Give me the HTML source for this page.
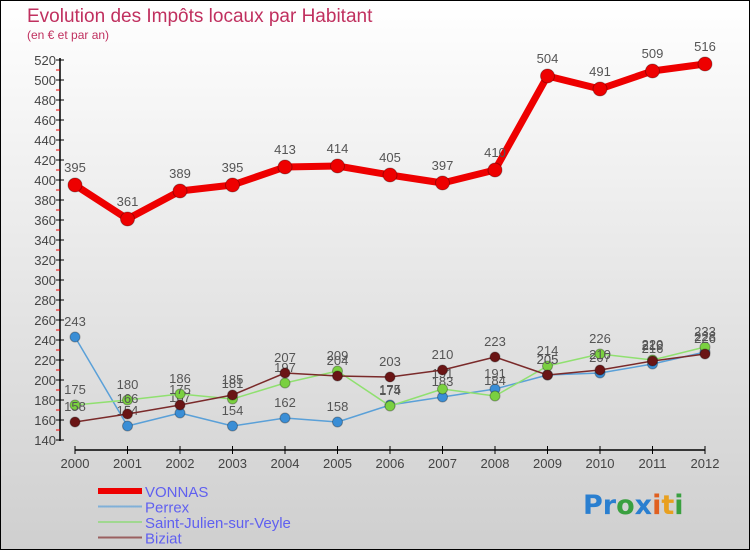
<!DOCTYPE html>
<html><head><meta charset="utf-8"><style>
body{margin:0}
#c{width:750px;height:550px;position:relative;box-sizing:border-box;border:1px solid #000;background:linear-gradient(#ffffff,#cfcfcf);overflow:hidden;font-family:"Liberation Sans",sans-serif}
</style></head><body>
<div id="c">
<svg id="s" width="750" height="550" style="position:absolute;left:-1px;top:-1px"></svg>
</div>
<script>
const years=["2000","2001","2002","2003","2004","2005","2006","2007","2008","2009","2010","2011","2012"];
const vonnas=[395,361,389,395,413,414,405,397,410,504,491,509,516];
const perrex=[243,154,167,154,162,158,175,183,191,205,207,216,228];
const stjulien=[175,180,186,181,197,209,174,191,184,214,226,220,233];
const biziat=[158,166,175,185,207,204,203,210,223,205,210,219,226];
const yTicks=[140,160,180,200,220,240,260,280,300,320,340,360,380,400,420,440,460,480,500,520];
const NS="http://www.w3.org/2000/svg";
const s=document.getElementById('s');
const X=i=>75+i*52.5;
const Y=v=>60+(520-v);
function el(t,a,p){const e=document.createElementNS(NS,t);for(const k in a)e.setAttribute(k,a[k]);(p||s).appendChild(e);return e;}
function tx(x,y,str,a){const e=el('text',Object.assign({x:x,y:y},a));e.textContent=str;return e;}
let t=tx(27,22,"Evolution des Impôts locaux par Habitant",{fill:"#c0305f","font-size":"19"});

t=tx(27,39,"(en € et par an)",{fill:"#c0305f","font-size":"12"});

let a=el('line',{x1:60,y1:58,x2:60,y2:441,stroke:"#000","stroke-width":1.5});

a=el('line',{x1:75,y1:450,x2:705,y2:450,stroke:"#000","stroke-width":1.5});

yTicks.forEach((v,i)=>{
  el('line',{x1:56,y1:Y(v),x2:64,y2:Y(v),stroke:"#000"});
  if(v<520) el('line',{x1:56,y1:Y(v+10),x2:60,y2:Y(v+10),stroke:"#e00"});
  const l=tx(56,Y(v)+5,String(v),{fill:"#444","font-size":"13","text-anchor":"end"});
  
});
years.forEach((y,i)=>{
  el('line',{x1:X(i),y1:446,x2:X(i),y2:454,stroke:"#000"});
  const l=tx(X(i),468,y,{fill:"#444","font-size":"13","text-anchor":"middle"});
  
});
function series(data,color,w,r,name,dot){
  const g=el('g',{});
  
  el('polyline',{points:data.map((v,i)=>X(i)+","+Y(v)).join(" "),fill:"none",stroke:color,"stroke-width":w,"stroke-linejoin":"round"},g);
  data.forEach((v,i)=>{
    const c=el('circle',{cx:X(i),cy:Y(v),r:r,fill:dot,stroke:"rgba(0,0,0,0.3)"},g);
    
    const l=tx(X(i),Y(v)-(r+6),String(v),{fill:"#555","font-size":"13","text-anchor":"middle"},g);
    
  });
}
series(perrex,"#5aa0d8",1.5,5,"perrex","#3a8ed6");
series(stjulien,"#90e070",1.5,5,"stjulien","#7ad040");
series(biziat,"#7a2a2a",1.5,5,"biziat","#6a1515");
series(vonnas,"#ee0000",7,7,"vonnas","#ee0000");
const leg=[["VONNAS","#ee0000",6],["Perrex","#80b0d8",2],["Saint-Julien-sur-Veyle","#a0d890",2],["Biziat","#9a6060",2]];
leg.forEach((d,i)=>{
  const g=el('g',{});
  
  const y=491+i*15.5;
  el('line',{x1:98,y1:y,x2:142,y2:y,stroke:d[1],"stroke-width":d[2]},g);
  tx(145,y+6,d[0],{fill:"#6060f0","font-size":"15"},g);
});
const lg=tx(583,514,"",{"font-size":"27","font-weight":"bold","font-family":"DejaVu Sans, sans-serif"});

[["Pr","#2a7fd0"],["o","#3aa040"],["x","#2a7fd0"],["i","#e06020"],["t","#e8a020"],["i","#3aa040"]].forEach(p=>{const ts=el('tspan',{fill:p[1]},lg);ts.textContent=p[0];});
</script>
</body></html>
